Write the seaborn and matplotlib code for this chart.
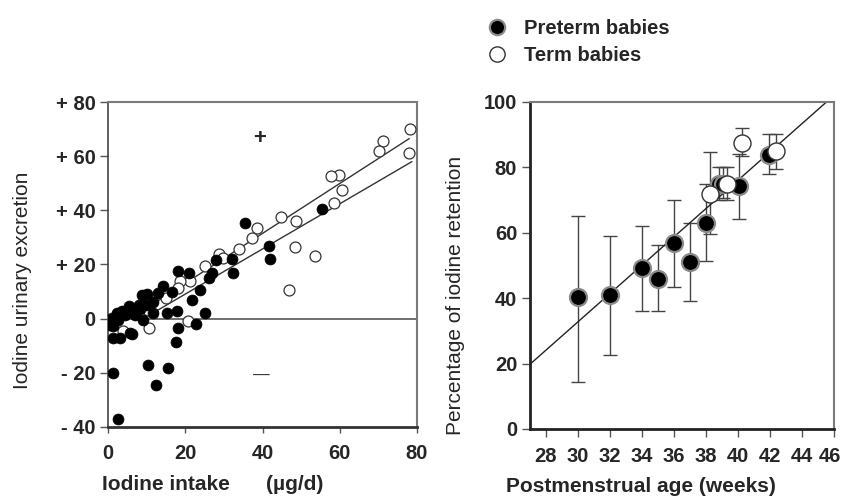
import numpy as np
import pandas as pd
import matplotlib
matplotlib.use("Agg")
import matplotlib.pyplot as plt
import matplotlib.transforms as mtransforms
from matplotlib.lines import Line2D
import seaborn as sns

# ---------------- data: left panel (iodine balance) ----------------
pre_intake = [55.5, 35.5, 41.6, 42.0, 32.0, 32.4, 28.0, 26.9, 26.2, 23.8, 21.7, 25.1,
              22.7, 18.0, 21.0, 14.3, 16.5, 17.8, 15.2, 18.0, 17.7, 11.7, 10.0, 8.9,
              10.4, 15.6, 12.3, 1.2, 2.7, 6.1, 11.7, 8.2, 5.6, 4.3, 2.6, 1.0, 0.4,
              1.4, 3.1, 1.2, 5.7, 6.9, 9.1, 7.1, 13.0, 3.7, 2.4, 5.4, 7.9, 9.9]
pre_excr = [40.5, 35.5, 27.0, 22.0, 22.0, 16.8, 21.5, 17.0, 15.0, 10.6, 7.0, 2.0,
            -2.0, 17.5, 17.0, 12.0, 10.0, 2.7, 2.1, -3.6, -8.6, 6.2, 9.2, 8.8,
            -17.0, -18.3, -24.6, -20.1, -37.2, -5.5, 2.2, 3.6, 2.6, 1.5, -0.5, 0.3, -2.5,
            -2.8, -7.2, -7.0, -5.3, 1.5, -0.4, 2.8, 9.6, 2.8, 2.0, 4.6, 5.2, 5.2]
term_intake = [78.1, 77.8, 71.1, 70.1, 59.9, 57.7, 60.5, 58.4, 44.8, 48.6, 38.7, 37.4,
               34.0, 48.3, 53.7, 46.9, 28.7, 29.8, 25.0, 21.2, 18.6, 18.2, 15.0, 10.3,
               10.7, 20.8, 4.0]
term_excr = [70.0, 61.0, 65.7, 62.0, 53.2, 52.7, 47.4, 42.7, 37.6, 36.0, 33.3, 29.6,
             25.8, 26.3, 23.3, 10.6, 23.7, 22.5, 19.6, 13.8, 13.8, 11.4, 7.5, 3.3,
             -3.5, -0.7, -4.6]
# regression lines (endpoints)
upper_x = [8.0, 78.0]
upper_y = [2.0, 66.5]
lower_x = [12.0, 78.7]
lower_y = [2.4, 58.0]
left_yticks = [80, 60, 40, 20, 0, -20, -40]
left_yticklabels = ["+ 80", "+ 60", "+ 40", "+ 20", "0", "- 20", "- 40"]
left_xticks = [0, 20, 40, 60, 80]

# ---------------- data: right panel (retention vs age) ----------------
pre_age = [30, 32, 34, 35, 36, 37, 38, 38.85, 39.05, 40.05, 41.95]
pre_ret = [40.3, 40.8, 49.2, 45.9, 56.7, 51.0, 62.9, 75.0, 75.0, 74.2, 83.8]
pre_lo = [14.5, 22.5, 36.2, 36.2, 43.5, 39.0, 51.2, 70.0, 70.5, 64.3, 78.0]
pre_hi = [65.0, 59.0, 62.0, 56.3, 70.0, 63.0, 75.0, 80.0, 80.0, 84.0, 90.0]
term_age = [38.25, 39.35, 40.25, 42.35]
term_ret = [71.8, 75.0, 87.3, 85.0]
term_lo = [59.7, 70.0, 83.5, 79.5]
term_hi = [84.6, 80.0, 92.0, 90.0]
fit_x = [27.0, 45.55]
fit_y = [19.7, 100.0]
right_xticks = [28, 30, 32, 34, 36, 38, 40, 42, 44, 46]
right_yticks = [0, 20, 40, 60, 80, 100]

sns.set_style("white")
plt.rcParams['font.family'] = ['Liberation Sans', 'DejaVu Sans']

W, H = 843, 497
fig = plt.figure(figsize=(W / 100, H / 100), dpi=100)

def fx(px):
    return px / W

def fy(py):
    return 1 - py / H

axL = fig.add_axes([fx(108), fy(427), (417 - 108) / W, (427 - 102) / H])
axR = fig.add_axes([fx(529.7), fy(429), (834 - 529.7) / W, (429 - 101.7) / H])

# ----- left panel -----
dfp = pd.DataFrame({"x": pre_intake, "y": pre_excr})
dft = pd.DataFrame({"x": term_intake, "y": term_excr})
axL.axhline(0, color="#555555", lw=1.2, zorder=1)
axL.plot(upper_x, upper_y, color="#333333", lw=1.0, zorder=2)
axL.plot(lower_x, lower_y, color="#333333", lw=1.0, zorder=2)
sns.scatterplot(data=dft, x="x", y="y", ax=axL, s=62, color="white",
                edgecolor="#333333", linewidth=0.9, zorder=3)
sns.scatterplot(data=dfp, x="x", y="y", ax=axL, s=62, color="black",
                edgecolor="black", linewidth=0.5, zorder=4)
axL.text(39.2, 66.5, "+", ha="center", va="center", fontsize=16, fontweight="bold")
axL.text(39.8, -20.9, "\u2014", ha="center", va="center", fontsize=12, color="#333333")
axL.set_xlim(0, 80)
axL.set_ylim(-40, 80)
axL.set_yticks(left_yticks)
axL.set_yticklabels(left_yticklabels)
axL.set_xticks(left_xticks)
axL.set_xlabel("")
axL.set_ylabel("")

# ----- right panel -----
axR.plot(fit_x, fit_y, color="#222222", lw=1.0, zorder=2)
pre_err = [np.array(pre_ret) - np.array(pre_lo), np.array(pre_hi) - np.array(pre_ret)]
term_err = [np.array(term_ret) - np.array(term_lo), np.array(term_hi) - np.array(term_ret)]
axR.errorbar(pre_age, pre_ret, yerr=pre_err, fmt="none", ecolor="#444444",
             elinewidth=1.0, capsize=5, capthick=1.0, zorder=1)
axR.errorbar(term_age, term_ret, yerr=term_err, fmt="none", ecolor="#444444",
             elinewidth=1.0, capsize=5, capthick=1.0, zorder=1)
sns.scatterplot(x=pre_age, y=pre_ret, ax=axR, s=150, color="black",
                edgecolor="#8a8a8a", linewidth=1.6, zorder=3)
sns.scatterplot(x=term_age, y=term_ret, ax=axR, s=150, color="white",
                edgecolor="#333333", linewidth=1.0, zorder=4)
axR.set_xlim(27, 46)
axR.set_ylim(0, 100)
axR.set_xticks(right_xticks)
axR.set_yticks(right_yticks)

for ax in (axL, axR):
    for sp in ("top", "right"):
        ax.spines[sp].set_color("#7a7a7a")
        ax.spines[sp].set_linewidth(1.5)
    ax.tick_params(axis="both", which="major", labelsize=14.5, length=6, width=1,
                   color="#555555", direction="out", pad=3)
    for lab in ax.get_xticklabels() + ax.get_yticklabels():
        lab.set_fontweight("bold")
    ax.set_xlabel("")
    ax.set_ylabel("")
    ax.tick_params(left=True, bottom=True)

axL.spines["left"].set_color("#444444")
axL.spines["left"].set_linewidth(1.2)
axL.spines["bottom"].set_color("#333333")
axL.spines["bottom"].set_linewidth(2.0)
axL.tick_params(axis="x", length=4, pad=8)
axR.spines["left"].set_color("#222222")
axR.spines["left"].set_linewidth(2.0)
axR.spines["bottom"].set_color("#222222")
axR.spines["bottom"].set_linewidth(2.0)
axR.tick_params(axis="x", pad=7)

# keep the last x tick label ("46") inside the canvas, as in the reference
last = axR.get_xticklabels()[-1]
last.set_transform(last.get_transform() +
                   mtransforms.ScaledTranslation(-4 / 100, 0, fig.dpi_scale_trans))

# ----- axis titles -----
fig.text(fx(23), fy(280), "Iodine urinary excretion", rotation=90, ha="center",
         va="center", fontsize=15)
fig.text(fx(102), fy(484), "Iodine intake", ha="left", va="center", fontsize=15,
         fontweight="bold")
fig.text(fx(266), fy(484), "(\u00b5g/d)", ha="left", va="center", fontsize=15,
         fontweight="bold")
fig.text(fx(455), fy(295), "Percentage of iodine retention", rotation=90,
         ha="center", va="center", fontsize=15)
fig.text(fx(641), fy(487), "Postmenstrual age (weeks)", ha="center", va="center",
         fontsize=15, fontweight="bold")

# ----- legend -----
handles = [
    Line2D([], [], marker="o", linestyle="none", markersize=11, markerfacecolor="black",
           markeredgecolor="#8a8a8a", markeredgewidth=1.6),
    Line2D([], [], marker="o", linestyle="none", markersize=11, markerfacecolor="white",
           markeredgecolor="#333333", markeredgewidth=1.0),
]
fig.legend(handles, ["Preterm babies", "Term babies"], loc="upper left",
           bbox_to_anchor=(fx(487), fy(19)), frameon=False, borderpad=0,
           borderaxespad=0, handlelength=1.0, handletextpad=0.85, labelspacing=0.4,
           prop={"size": 14.5, "weight": "bold"})

fig.savefig("out.png", dpi=100)
